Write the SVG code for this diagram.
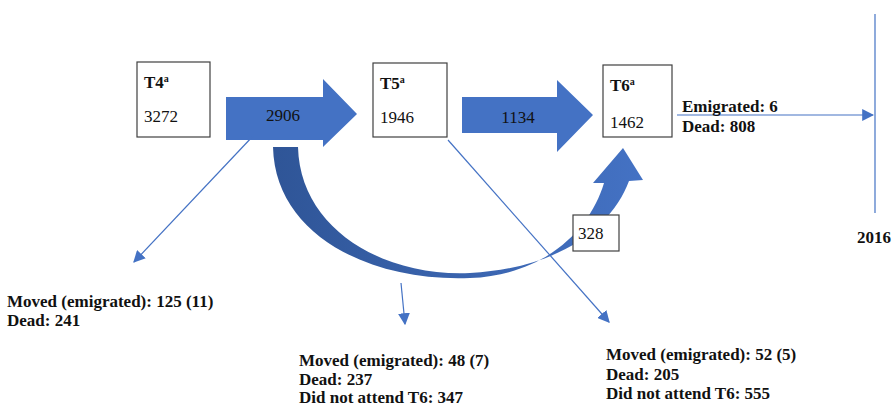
<svg xmlns="http://www.w3.org/2000/svg" width="892" height="407" viewBox="0 0 892 407">
<style>
.box{fill:#fff;stroke:#404040;stroke-width:1.2}
.t{font-family:"Liberation Serif",serif;font-size:17px;fill:#111}
.b{font-weight:bold}
.ln{stroke:#4472C4;stroke-width:1.2;fill:none}
.big{fill:#4472C4}
</style>
<defs>
<marker id="ah" viewBox="0 0 10 10" refX="9" refY="5" markerWidth="12" markerHeight="12" markerUnits="userSpaceOnUse" orient="auto">
<path d="M0,0 L10,5 L0,10 Z" fill="#4472C4"/>
</marker>
<linearGradient id="cg" x1="0" y1="0" x2="1" y2="0">
<stop offset="0" stop-color="#2F5597"/>
<stop offset="1" stop-color="#4472C4"/>
</linearGradient>
</defs>
<g id="connectors">
<path id="curve" d="M273,147 C275,235 370,282 470,278 C545,275 590,230 604,183 L593,183 L623,148 L643,180 L629,181 C612,226 562,268 470,273 C382,277 300,228 298,147 Z" fill="url(#cg)"/>
<path id="arrow1" class="big" d="M226,97 L323,97 L323,79 L357,114 L323,147 L323,140 L226,140 Z"/>
<path id="arrow2" class="big" d="M462,97 L557,97 L557,80 L593,115 L557,152 L557,133 L462,133 Z"/>
<line class="ln" x1="253" y1="136" x2="134" y2="262" marker-end="url(#ah)"/>
<line class="ln" x1="448" y1="140" x2="609" y2="322" marker-end="url(#ah)"/>
<line class="ln" x1="401" y1="283" x2="405" y2="324" marker-end="url(#ah)"/>
<line class="ln" x1="677" y1="115" x2="873" y2="115" marker-end="url(#ah)"/>
<line class="ln" x1="875" y1="14" x2="875" y2="213"/>
</g>
<g id="t4">
<rect class="box" x="137" y="62" width="73" height="75"/>
<text class="t b" x="144" y="88">T4<tspan font-size="10" dy="-6">a</tspan></text>
<text class="t" x="144" y="122">3272</text>
</g>
<g id="t5">
<rect class="box" x="373" y="63" width="74" height="74"/>
<text class="t b" x="380" y="89">T5<tspan font-size="10" dy="-6">a</tspan></text>
<text class="t" x="380" y="123">1946</text>
</g>
<g id="t6">
<rect class="box" x="603" y="65" width="69" height="72"/>
<text class="t b" x="610" y="91">T6<tspan font-size="10" dy="-6">a</tspan></text>
<text class="t" x="610" y="128">1462</text>
</g>
<g id="label-2906"><text class="t" x="283" y="121" text-anchor="middle">2906</text></g>
<g id="label-1134"><text class="t" x="518" y="123" text-anchor="middle">1134</text></g>
<g id="label-328">
<rect class="box" x="573" y="215" width="46" height="36"/>
<text class="t" x="578" y="239">328</text>
</g>
<g id="exit-t6">
<text class="t b" x="682" y="112">Emigrated: 6</text>
<text class="t b" x="682" y="132">Dead: 808</text>
</g>
<g id="year"><text class="t b" x="857" y="243">2016</text></g>
<g id="loss-t4">
<text class="t b" x="7" y="307">Moved (emigrated): 125 (11)</text>
<text class="t b" x="7" y="326">Dead: 241</text>
</g>
<g id="loss-mid">
<text class="t b" x="299" y="366">Moved (emigrated): 48 (7)</text>
<text class="t b" x="299" y="385">Dead: 237</text>
<text class="t b" x="299" y="403">Did not attend T6: 347</text>
</g>
<g id="loss-t5">
<text class="t b" x="606" y="360">Moved (emigrated): 52 (5)</text>
<text class="t b" x="606" y="380">Dead: 205</text>
<text class="t b" x="606" y="399">Did not attend T6: 555</text>
</g>
</svg>
